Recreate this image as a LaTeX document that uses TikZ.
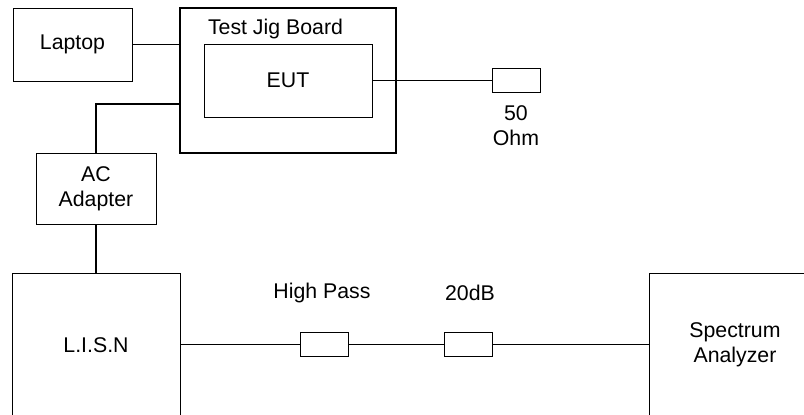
\documentclass[tikz,border=0pt]{standalone}
\usepackage{fontspec}
\setmainfont{Liberation Sans}
\usepackage{tikz}
\usetikzlibrary{positioning}

\begin{document}
\begin{tikzpicture}[
  x=1pt,y=-1pt,
  font=\fontsize{21.3}{25}\selectfont,
  caja/.style={draw,line width=1pt,inner sep=0pt,align=center},
  placa/.style={draw,line width=2pt,inner sep=0pt},
  pieza/.style={draw,line width=1pt,inner sep=0pt,minimum width=48pt,minimum height=24pt},
  rotulo/.style={inner sep=0pt,align=center},
  cable/.style={line width=1.7pt}
]
\useasboundingbox (0,0) rectangle (804,415);
\node[caja,minimum width=119pt,minimum height=73pt] (laptop) at (72.5,44.5) {Laptop};
\node[placa,minimum width=216pt,minimum height=145pt] (jig) at (288,80.5) {};
\node[rotulo] (jigname) at (275.5,29) {Test Jig Board};
\node[caja,minimum width=168pt,minimum height=73pt] (eut) at (288,80.5) {EUT};
\node[pieza] (load) at (516,80.5) {};
\node[rotulo,below=12pt of load] (loadname) {50\\Ohm};
\node[caja,minimum width=120pt,minimum height=71pt] (adapter) at (96,188.5) {AC\\Adapter};
\node[caja,minimum width=168pt,minimum height=144pt] (lisn) at (96,345) {L.I.S.N};
\node[pieza] (hpf) at (324,344.5) {};
\node[rotulo] (hpfname) at (322,293) {High Pass};
\node[pieza] (atten) at (468,344.5) {};
\node[rotulo] (attenname) at (470,293) {20dB};
\node[caja,minimum width=172pt,minimum height=144pt] (analyzer) at (735,345) {Spectrum\\Analyzer};

\draw[cable] (laptop.east) -- (laptop.east -| jig.west);
\draw[cable] (eut.east) -- (load.west);
\draw[cable] (jig.west) ++(0,23.5) -| (adapter.north);
\draw[cable] (adapter.south) -- (lisn.north);
\draw[cable] (lisn.east |- hpf.west) -- (hpf.west);
\draw[cable] (hpf.east) -- (atten.west);
\draw[cable] (atten.east) -- (analyzer.west |- atten.east);
\end{tikzpicture}
\end{document}
